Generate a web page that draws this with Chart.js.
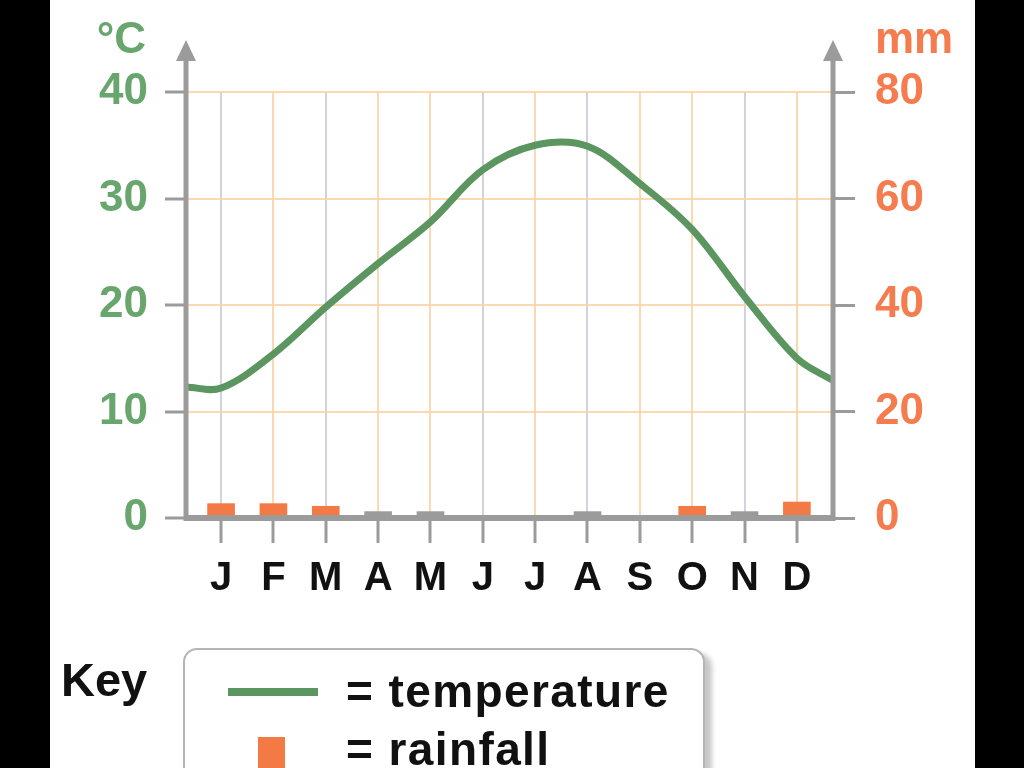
<!DOCTYPE html>
<html>
<head>
<meta charset="utf-8">
<script src="https://cdn.jsdelivr.net/npm/chart.js@4.4.1/dist/chart.umd.min.js"></script>
<style>
  html, body { margin: 0; padding: 0; background: #000; }
  body { width: 1024px; height: 768px; position: relative; overflow: hidden; font-family: "Liberation Sans", Arial, sans-serif; }
  #panel { position: absolute; left: 50px; top: 0; width: 925px; height: 768px; background: #fff; }
  #chart { position: absolute; left: 0; top: 0; }
  .keyTitle { position: absolute; left: 61px; top: 652px; font-weight: bold; font-size: 47px; color: #111; }
  .keyBox { position: absolute; left: 183px; top: 648px; width: 518px; height: 150px; border: 2px solid #b5b5b5; border-radius: 14px; box-shadow: 7px 5px 5px rgba(0,0,0,0.22); background: #fff; }
  .keyLine { position: absolute; left: 228px; top: 688px; width: 90px; height: 8px; background: #5b955f; }
  .keySquare { position: absolute; left: 258px; top: 737px; width: 27px; height: 40px; background: #f47a45; }
  .keyText { position: absolute; left: 346px; font-weight: bold; font-size: 46px; letter-spacing: 1.4px; color: #111; }
</style>
</head>
<body>
<div id="panel"></div>
<canvas id="chart" width="1024" height="768"></canvas>
<div class="keyTitle">Key</div>
<div class="keyBox"></div>
<div class="keyLine"></div>
<div class="keyText" style="top:664px">= temperature</div>
<div class="keySquare"></div>
<div class="keyText" style="top:722px">= rainfall</div>

<script>
// month letters along the bottom
const months = ['J', 'F', 'M', 'A', 'M', 'J', 'J', 'A', 'S', 'O', 'N', 'D'];

// temperature (°C) at each month
const temperature = [12.2, 15.4, 19.8, 23.9, 27.8, 32.7, 35.0, 34.9, 31.4, 27.1, 20.8, 15.0];
// where the curve meets the left / right axis (year wraps round)
const tempAtStart = 12.3;
const tempAtEnd = 12.9;

// rainfall (mm)
const rainfall = [2.7, 2.7, 2.2, 1.2, 1.2, 0, 0, 1.2, 0, 2.2, 1.2, 3.0];

const tempTicks = [0, 10, 20, 30, 40];
const rainTicks = [0, 20, 40, 60, 80];

const green = '#5b955f';
const greenText = '#68a66e';
const orange = '#f47a45';
const orangeText = '#f47c4e';
const axisGray = '#9b9b9b';
const gridOrange = 'rgba(250, 212, 165, 0.85)';
const gridGray = 'rgba(205, 205, 218, 0.9)';
// months whose vertical grid line is grey rather than orange
const grayGridMonths = [0, 2, 5, 7, 10];

const xMin = -0.67;
const xMax = 11.69;

const tempPoints = [{ x: xMin, y: tempAtStart }]
  .concat(temperature.map((t, i) => ({ x: i, y: t })))
  .concat([{ x: xMax, y: tempAtEnd }]);

const rainPoints = rainfall.map((r, i) => ({ x: i, y: r }));

// axis lines with arrow heads and the unit labels
const framePlugin = {
  id: 'frame',
  afterDatasetsDraw(chart) {
    const { ctx, chartArea: a } = chart;
    ctx.save();
    ctx.strokeStyle = axisGray;
    ctx.fillStyle = axisGray;
    ctx.lineCap = 'butt';

    ctx.lineWidth = 6;
    ctx.beginPath();
    ctx.moveTo(a.left - 2, a.bottom);
    ctx.lineTo(a.right + 2, a.bottom);
    ctx.stroke();

    [a.left, a.right].forEach(x => {
      ctx.lineWidth = 5;
      ctx.beginPath();
      ctx.moveTo(x, a.bottom + 3);
      ctx.lineTo(x, a.top - 34);
      ctx.stroke();
      ctx.beginPath();
      ctx.moveTo(x, a.top - 52);
      ctx.lineTo(x - 10, a.top - 31);
      ctx.lineTo(x + 10, a.top - 31);
      ctx.closePath();
      ctx.fill();
    });

    ctx.font = 'bold 44px "Liberation Sans", Arial, sans-serif';
    ctx.textBaseline = 'alphabetic';
    ctx.fillStyle = greenText;
    ctx.textAlign = 'right';
    ctx.fillText('°C', a.left - 40, a.top - 39);
    ctx.fillStyle = orangeText;
    ctx.textAlign = 'left';
    ctx.fillText('mm', a.right + 42, a.top - 39);
    ctx.restore();
  }
};

new Chart(document.getElementById('chart'), {
  data: {
    datasets: [
      {
        type: 'line',
        label: 'temperature',
        data: tempPoints,
        xAxisID: 'x',
        yAxisID: 'y',
        borderColor: green,
        borderWidth: 7,
        tension: 0.35,
        pointRadius: 0,
        fill: false,
        order: 1,
      },
      {
        type: 'bar',
        label: 'rainfall',
        data: rainPoints,
        xAxisID: 'x',
        yAxisID: 'y1',
        backgroundColor: ctx => (ctx.raw && ctx.raw.y < 1.5 ? axisGray : orange),
        barThickness: 27,
        order: 2,
      },
    ],
  },
  options: {
    responsive: false,
    animation: false,
    layout: { padding: { top: 92, left: 0, right: 0, bottom: 0 } },
    plugins: {
      legend: { display: false },
      tooltip: { enabled: false },
    },
    scales: {
      x: {
        type: 'linear',
        position: 'bottom',
        min: xMin,
        max: xMax,
        offset: false,
        afterBuildTicks: scale => {
          scale.ticks = months.map((m, i) => ({ value: i }));
        },
        afterFit: scale => { scale.height = 250; },
        border: { display: false },
        grid: {
          offset: false,
          color: ctx => (grayGridMonths.includes(ctx.index) ? gridGray : gridOrange),
          lineWidth: 2,
          drawTicks: true,
          tickLength: 25,
          tickColor: axisGray,
          tickWidth: 3,
        },
        ticks: {
          autoSkip: false,
          maxRotation: 0,
          padding: 12,
          color: '#111',
          font: { family: '"Liberation Sans", Arial, sans-serif', size: 40, weight: 'bold' },
          callback: v => months[v],
        },
      },
      y: {
        position: 'left',
        min: 0,
        max: 40,
        afterBuildTicks: scale => {
          scale.ticks = tempTicks.map(v => ({ value: v }));
        },
        afterFit: scale => { scale.width = 186; },
        border: { display: false },
        grid: {
          color: ctx => (ctx.tick && ctx.tick.value === 0 ? 'rgba(0,0,0,0)' : gridOrange),
          lineWidth: 2,
          tickLength: 21,
          tickColor: axisGray,
          tickWidth: 3,
        },
        ticks: {
          padding: 17,
          color: greenText,
          font: { family: '"Liberation Sans", Arial, sans-serif', size: 44, weight: 'bold' },
        },
      },
      y1: {
        position: 'right',
        min: 0,
        max: 80,
        afterBuildTicks: scale => {
          scale.ticks = rainTicks.map(v => ({ value: v }));
        },
        afterFit: scale => { scale.width = 191; },
        border: { display: false },
        grid: {
          drawOnChartArea: false,
          tickLength: 22,
          tickColor: axisGray,
          tickWidth: 3,
        },
        ticks: {
          padding: 20,
          color: orangeText,
          font: { family: '"Liberation Sans", Arial, sans-serif', size: 44, weight: 'bold' },
        },
      },
    },
  },
  plugins: [framePlugin],
});
</script>
</body>
</html>
